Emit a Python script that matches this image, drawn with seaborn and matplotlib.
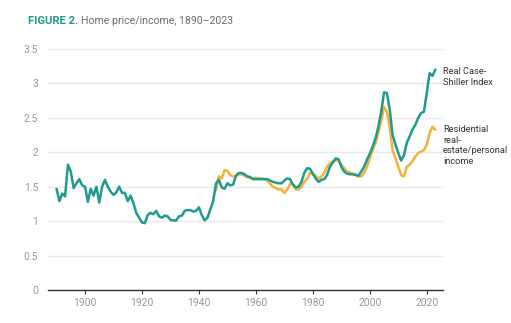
import numpy as np
import pandas as pd
import matplotlib
matplotlib.use("Agg")
import matplotlib.pyplot as plt
import seaborn as sns

# --- data ---
cs_years = list(range(1890, 2024))
case_shiller = [
    1.47, 1.29, 1.40, 1.36, 1.82, 1.72, 1.48, 1.55, 1.61, 1.52,  # 1890-1899
    1.50, 1.28, 1.47, 1.37, 1.50, 1.27, 1.50, 1.60, 1.50, 1.43,  # 1900-1909
    1.38, 1.42, 1.50, 1.41, 1.41, 1.29, 1.37, 1.26, 1.12, 1.05,  # 1910-1919
    0.98, 0.97, 1.09, 1.12, 1.10, 1.15, 1.07, 1.05, 1.08, 1.07,  # 1920-1929
    1.02, 1.01, 1.01, 1.07, 1.08, 1.15, 1.16, 1.16, 1.14, 1.15,  # 1930-1939
    1.20, 1.09, 1.01, 1.05, 1.17, 1.29, 1.55, 1.60, 1.49, 1.47,  # 1940-1949
    1.55, 1.52, 1.53, 1.66, 1.70, 1.70, 1.68, 1.65, 1.64, 1.61,  # 1950-1959
    1.61, 1.61, 1.61, 1.61, 1.61, 1.59, 1.57, 1.56, 1.55, 1.55,  # 1960-1969
    1.59, 1.62, 1.61, 1.53, 1.49, 1.50, 1.57, 1.70, 1.77, 1.76,  # 1970-1979
    1.69, 1.62, 1.57, 1.60, 1.61, 1.67, 1.79, 1.85, 1.91, 1.90,  # 1980-1989
    1.79, 1.72, 1.69, 1.68, 1.68, 1.67, 1.66, 1.72, 1.79, 1.89,  # 1990-1999
    1.98, 2.08, 2.20, 2.37, 2.59, 2.87, 2.86, 2.62, 2.25, 2.11,  # 2000-2009
    1.99, 1.88, 1.96, 2.14, 2.23, 2.33, 2.40, 2.50, 2.57, 2.59,  # 2010-2019
    2.86, 3.15, 3.11, 3.20,                                      # 2020-2023
]
re_years = list(range(1946, 2024))
real_estate_income = [
    1.45, 1.65, 1.62, 1.74,                                      # 1946-1949
    1.73, 1.67, 1.65, 1.65, 1.68, 1.68, 1.66, 1.64, 1.63, 1.61,  # 1950-1959
    1.63, 1.62, 1.62, 1.61, 1.59, 1.54, 1.50, 1.48, 1.46, 1.46,  # 1960-1969
    1.41, 1.46, 1.54, 1.54, 1.46, 1.46, 1.50, 1.57, 1.62, 1.70,  # 1970-1979
    1.68, 1.66, 1.62, 1.65, 1.70, 1.79, 1.84, 1.87, 1.88, 1.88,  # 1980-1989
    1.82, 1.77, 1.72, 1.71, 1.69, 1.68, 1.65, 1.65, 1.70, 1.79,  # 1990-1999
    1.91, 2.03, 2.13, 2.28, 2.45, 2.66, 2.59, 2.37, 2.03, 1.91,  # 2000-2009
    1.79, 1.67, 1.65, 1.79, 1.82, 1.87, 1.94, 1.99, 2.01, 2.03,  # 2010-2019
    2.11, 2.28, 2.37, 2.33,                                      # 2020-2023
]
series_names = ["Residential real-estate/personal income", "Real Case-Shiller Index"]
label_texts = ["Residential\nreal-\nestate/personal\nincome", "Real Case-\nShiller Index"]
x_ticks = [1900, 1920, 1940, 1960, 1980, 2000, 2020]
y_ticks = [0, 0.5, 1, 1.5, 2, 2.5, 3, 3.5]
y_tick_labels = ["0", "0.5", "1", "1.5", "2", "2.5", "3", "3.5"]

df = pd.concat([
    pd.DataFrame({"year": re_years, "value": real_estate_income, "series": series_names[0]}),
    pd.DataFrame({"year": cs_years, "value": case_shiller, "series": series_names[1]}),
])

TEAL = "#1f9a8e"
ORANGE = "#f6b13a"

sns.set_theme(style="white")
plt.rcParams["font.family"] = ["Roboto", "DejaVu Sans"]

fig = plt.figure(figsize=(5.11, 3.23), dpi=100)
ax = fig.add_axes([48 / 511, 1 - 290 / 323, (443 - 48) / 511, (290 - 49) / 323])

sns.lineplot(data=df, x="year", y="value", hue="series",
             palette={series_names[0]: ORANGE, series_names[1]: TEAL},
             hue_order=series_names, linewidth=1.8, legend=False, ax=ax)

ax.set_xlim(1887, 2025.7)
ax.set_ylim(0, 3.5)
ax.set_xticks(x_ticks)
ax.set_yticks(y_ticks)
ax.set_yticklabels(y_tick_labels)
ax.set_xlabel("")
ax.set_ylabel("")
ax.grid(axis="y", color="#e9e9e9", linewidth=1.0)
ax.set_axisbelow(True)
for s in ["top", "right", "left"]:
    ax.spines[s].set_visible(False)
ax.spines["bottom"].set_color("#333333")
ax.spines["bottom"].set_linewidth(1.0)
ax.tick_params(axis="x", bottom=True, length=3, width=0.8, color="#333333",
               labelsize=7.5, labelcolor="#999999", pad=3)
ax.tick_params(axis="y", left=False, labelsize=7.5, labelcolor="#999999", pad=1)

# direct labels
fig.text(443 / 511, 1 - 77 / 323, label_texts[1], fontsize=6.7, color="#333333",
         va="center", ha="left", linespacing=1.25)
fig.text(443 / 511, 1 - 145.5 / 323, label_texts[0], fontsize=6.7, color="#333333",
         va="center", ha="left", linespacing=1.25)

# title
t1 = fig.text(28 / 511, 1 - 21 / 323, "FIGURE 2.", fontsize=8.1, color=TEAL,
              fontweight="bold", va="center", ha="left")
fig.canvas.draw()
bb = t1.get_window_extent()
fig.text((bb.x1 + 3) / 511, 1 - 21 / 323, "Home price/income, 1890\u20132023",
         fontsize=7.6, color="#6b6b6b", va="center", ha="left")

fig.savefig("out.png", dpi=100)
